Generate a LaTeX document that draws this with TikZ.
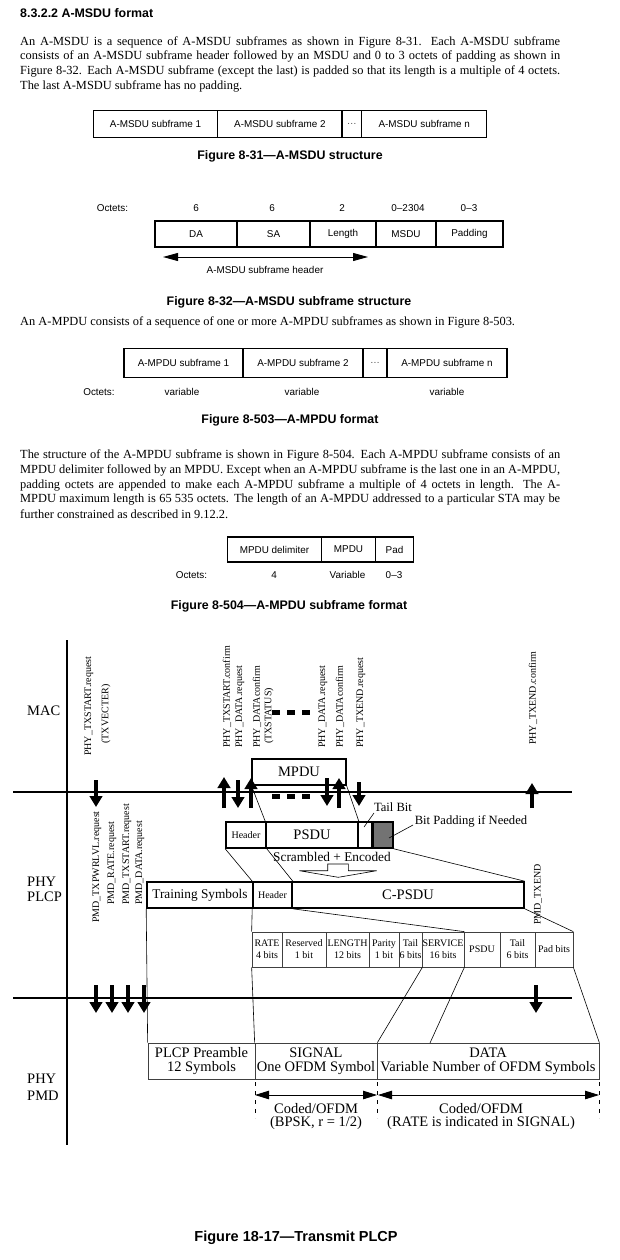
\documentclass[tikz,border=0pt]{standalone}
\usepackage{fontspec}
\setmainfont{Liberation Serif}
\setsansfont{Liberation Sans}
\usetikzlibrary{arrows.meta}
\newcommand{\jline}[1]{\makebox[540pt][s]{#1}}
\begin{document}
\begin{tikzpicture}[x=1pt,y=-1pt,
  body/.style={font=\fontsize{12.4}{14.8}\selectfont, inner sep=0pt},
  capt/.style={font=\sffamily\bfseries\fontsize{12.4}{14}\selectfont, inner sep=0pt},
  lab/.style={font=\sffamily\fontsize{9.9}{11}\selectfont, inner sep=0pt},
  cell/.style={draw, line width=1.2pt, inner sep=0pt, font=\sffamily\fontsize{9.9}{11}\selectfont},
  rlab/.style={font=\fontsize{10}{11}\selectfont, inner sep=0pt, rotate=90, anchor=west},
  rlabc/.style={font=\fontsize{10}{11}\selectfont, inner sep=0pt, rotate=90},
  big/.style={font=\fontsize{14.5}{14}\selectfont, inner sep=0pt},
  mid/.style={font=\fontsize{13.3}{14}\selectfont, inner sep=0pt},
  small/.style={font=\fontsize{10}{12}\selectfont, inner sep=0pt},
  note/.style={font=\fontsize{12.6}{13}\selectfont, inner sep=0pt},
  thickbox/.style={draw, line width=1.6pt, inner sep=0pt},
  thinbox/.style={draw=black!75, line width=0.7pt, inner sep=0pt},
  fatarrow/.style={line width=3.3pt, -{Triangle[width=12.5pt,length=11pt]}},
  link/.style={line width=0.6pt},
  sepline/.style={line width=1.4pt},
  dimarrow/.style={line width=0.8pt, {Triangle[length=14pt,width=8.5pt]}-{Triangle[length=14pt,width=8.5pt]}},
  tick/.style={line width=0.7pt, dash pattern=on 4pt off 5pt},
  fatdash/.style={line width=5pt, dash pattern=on 8pt off 7pt},
]
\useasboundingbox (0,0) rectangle (620,1260);

% ---------- heading and paragraph 1
\node[font=\sffamily\bfseries\fontsize{12.4}{14}\selectfont, inner sep=0pt, anchor=west] (head) at (20,13) {8.3.2.2 A-MSDU format};
\node[body, anchor=west] (p1a) at (20,42) {\jline{An A-MSDU is a sequence of A-MSDU subframes as shown in Figure 8-31. Each A-MSDU subframe}};
\node[body, anchor=west] (p1b) at (20,56.8) {\jline{consists of an A-MSDU subframe header followed by an MSDU and 0 to 3 octets of padding as shown in}};
\node[body, anchor=west] (p1c) at (20,71.6) {\jline{Figure 8-32. Each A-MSDU subframe (except the last) is padded so that its length is a multiple of 4 octets.}};
\node[body, anchor=west] (p1d) at (20,86.4) {The last A-MSDU subframe has no padding.};

% ---------- Figure 8-31
\node[cell, minimum width=124.4pt, minimum height=26.8pt] (m1) at (155.6,124) {A-MSDU subframe 1};
\node[cell, minimum width=124.2pt, minimum height=26.8pt] (m2) at (279.9,124) {A-MSDU subframe 2};
\node[cell, minimum width=19.8pt, minimum height=26.8pt] (m3) at (351.9,124) {\textcolor{black!70}{\ldots}};
\node[cell, minimum width=124.9pt, minimum height=26.8pt] (m4) at (424.25,124) {A-MSDU subframe n};
\node[capt] (cap31) at (290,156) {Figure 8-31—A-MSDU structure};

% ---------- Figure 8-32
\node[lab] (oct1) at (112.5,208) {Octets:};
\node[lab] (o1) at (196,208) {6};
\node[lab] (o2) at (272,208) {6};
\node[lab] (o3) at (342,208) {2};
\node[lab] (o4) at (408,208) {0–2304};
\node[lab] (o5) at (469,208) {0–3};
\node[cell, minimum width=82pt, minimum height=26pt] (c1) at (196,234) {DA};
\node[cell, minimum width=73pt, minimum height=26pt] (c2) at (273.5,234) {SA};
\node[cell, minimum width=66pt, minimum height=26pt] (c3) at (343,234) {Length};
\node[cell, minimum width=60pt, minimum height=26pt] (c4) at (406,234) {MSDU};
\node[cell, minimum width=67pt, minimum height=26pt] (c5) at (469.5,234) {Padding};
\coordinate (hl) at (163,257);
\coordinate (hr) at (368,257);
\draw[line width=0.9pt, {Triangle[length=15pt,width=8pt]}-{Triangle[length=15pt,width=8pt]}] (hl) -- (hr);
\node[lab] (hdrlab) at (265,270) {A-MSDU subframe header};
\node[capt] (cap32) at (289,302) {Figure 8-32—A-MSDU subframe structure};

% ---------- paragraph 2 and Figure 8-503
\node[body, anchor=west] (p2) at (20,322) {An A-MPDU consists of a sequence of one or more A-MPDU subframes as shown in Figure 8-503.};
\node[cell, minimum width=119pt, minimum height=29pt] (d1) at (183.5,363) {A-MPDU subframe 1};
\node[cell, minimum width=120pt, minimum height=29pt] (d2) at (303,363) {A-MPDU subframe 2};
\node[cell, minimum width=24pt, minimum height=29pt] (d3) at (375,363) {\textcolor{black!70}{\ldots}};
\node[cell, minimum width=120pt, minimum height=29pt] (d4) at (447,363) {A-MPDU subframe n};
\node[lab] (oct2) at (99,392) {Octets:};
\node[lab] (v1) at (182,392) {variable};
\node[lab] (v2) at (302,392) {variable};
\node[lab] (v3) at (447,392) {variable};
\node[capt] (cap503) at (290,420) {Figure 8-503—A-MPDU format};

% ---------- paragraph 3 and Figure 8-504
\node[body, anchor=west] (p3a) at (20,455.5) {\jline{The structure of the A-MPDU subframe is shown in Figure 8-504. Each A-MPDU subframe consists of an}};
\node[body, anchor=west] (p3b) at (20,470.3) {\jline{MPDU delimiter followed by an MPDU. Except when an A-MPDU subframe is the last one in an A-MPDU,}};
\node[body, anchor=west] (p3c) at (20,485.1) {\jline{padding octets are appended to make each A-MPDU subframe a multiple of 4 octets in length. The A-}};
\node[body, anchor=west] (p3d) at (20,499.9) {\jline{MPDU maximum length is \hbox{65 535} octets. The length of an A-MPDU addressed to a particular STA may be}};
\node[body, anchor=west] (p3e) at (20,514.7) {further constrained as described in 9.12.2.};
\node[cell, minimum width=94.5pt, minimum height=25pt] (e1) at (274.45,549.5) {MPDU delimiter};
\node[cell, minimum width=53.6pt, minimum height=25pt] (e2) at (348.5,549.5) {MPDU};
\node[cell, minimum width=38.5pt, minimum height=25pt] (e3) at (394.55,549.5) {Pad};
\node[lab] (oct3) at (191.5,575) {Octets:};
\node[lab] (w1) at (274,575) {4};
\node[lab] (w2) at (347.5,575) {Variable};
\node[lab] (w3) at (394,575) {0–3};
\node[capt] (cap504) at (289,606) {Figure 8-504—A-MPDU subframe format};

% ---------- Figure 18-17 frame
\coordinate (h1l) at (13,792); \coordinate (h1r) at (572,792);
\coordinate (h2l) at (13,998); \coordinate (h2r) at (572,998);
\coordinate (vt) at (67,640); \coordinate (vb) at (67,1145);
\draw[sepline] (h1l) -- (h1r);
\draw[sepline] (h2l) -- (h2r);
\draw[sepline] (vt) -- (vb);
\node[big, anchor=west] (mac) at (27,711) {MAC};
\node[big, anchor=west, align=left, font=\fontsize{14.5}{15.5}\selectfont] (plcp) at (27,889.5) {PHY\\PLCP};
\node[big, anchor=west, align=left, font=\fontsize{14.5}{17}\selectfont] (pmd) at (27,1087) {PHY\\PMD};

% MAC primitives
\node[rlab] (r1) at (89,756) {PHY\_TXSTART.request};
\node[rlabc] (r1b) at (106,714) {(TXVECTER)};
\node[rlab] (r2) at (227,748) {PHY\_TXSTART.confirm};
\node[rlab] (r3) at (240,748) {PHY\_DATA.request};
\node[rlab] (r4) at (257,748) {PHY\_DATAconfirm};
\node[rlabc] (r4b) at (269,716) {(TXSTATUS)};
\node[rlab] (r5) at (323,748) {PHY\_DATA.request};
\node[rlab] (r6) at (340,748) {PHY\_DATAconfirm};
\node[rlab] (r7) at (361,748) {PHY\_TXEND.request};
\node[rlab] (r8) at (533,745) {PHY\_TXEND.confirm};
\draw[fatdash] (272,712) -- (310,712);

\node[draw, line width=1.2pt, inner sep=0pt, minimum width=94pt, minimum height=26pt, big] (mpdu) at (299,772) {MPDU};

% MAC / PLCP arrows
\draw[fatarrow] (96,780) -- (96,807);
\draw[fatarrow] (224,808) -- (224,777);
\draw[fatarrow] (238,780) -- (238,808);
\draw[fatarrow] (251,808) -- (251,778);
\draw[fatarrow] (327,778) -- (327,806);
\draw[fatarrow] (339,808) -- (339,778);
\draw[fatarrow] (359,782) -- (359,806);
\draw[fatarrow] (532,808) -- (532,783);
\draw[fatdash] (272,796) -- (310,796);

% PLCP: PSDU row
\node[thickbox, small, minimum width=40pt, minimum height=26pt] (hdrA) at (246,835) {Header};
\node[thickbox, big, minimum width=92pt, minimum height=26pt] (psdu) at (312,835) {PSDU};
\node[thickbox, minimum width=14pt, minimum height=26pt] (tailb) at (365,835) {};
\node[thickbox, fill=black!55, minimum width=20pt, minimum height=26pt] (padg) at (383,835) {};
\draw[link] (mpdu.south west) -- (psdu.north west);
\draw[link] (mpdu.south east) -- (psdu.north east);
\node[note] (tbl) at (393,807) {Tail Bit};
\coordinate (tbs) at (374,813); \coordinate (tbe) at (364,827);
\draw[link] (tbs) -- (tbe);
\node[note] (bpl) at (471,821) {Bit Padding if Needed};
\coordinate (bps) at (413,825); \coordinate (bpe) at (389,838);
\draw[link] (bps) -- (bpe);
\node[mid] (scr) at (332,857) {Scrambled + Encoded};
\draw[link, fill=white] (327.7,864) -- (348.3,864) -- (348.3,870.7) -- (376.7,870.7) -- (338.3,877.3) -- (299.3,870.7) -- (327.7,870.7) -- cycle;

% PLCP: C-PSDU row
\node[thickbox, mid, minimum width=106pt, minimum height=26pt] (train) at (200,895) {Training Symbols};
\node[thickbox, small, minimum width=39pt, minimum height=26pt] (hdrB) at (272.5,895) {Header};
\node[thickbox, big, minimum width=232pt, minimum height=26pt] (cpsdu) at (408,895) {C-PSDU};
\draw[link] (hdrA.south west) -- (hdrB.north west);
\draw[link] (hdrA.south east) -- (hdrB.north east);
\draw[link] (padg.south east) -- (cpsdu.north east);

% PMD primitives
\node[rlab] (q1) at (97,923) {PMD\_TXPWRLVL.request};
\node[rlab] (q2) at (112,905) {PMD\_RATE.request};
\node[rlab] (q3) at (127,905) {PMD\_TXSTART.request};
\node[rlab] (q4) at (140,905) {PMD\_DATA.request};
\node[rlab] (q5) at (538,925) {PMD\_TXEND};

% bit row
\node[thinbox, small, align=center, minimum width=30pt, minimum height=35pt] (b1) at (267,949.5) {RATE\\4 bits};
\node[thinbox, small, align=center, minimum width=44pt, minimum height=35pt] (b2) at (304,949.5) {Reserved\\1 bit};
\node[thinbox, small, align=center, minimum width=43pt, minimum height=35pt] (b3) at (347.5,949.5) {LENGTH\\12 bits};
\node[thinbox, small, align=center, minimum width=30pt, minimum height=35pt] (b4) at (384,949.5) {Parity\\1 bit};
\node[thinbox, small, align=center, minimum width=23pt, minimum height=35pt] (b5) at (410.5,949.5) {Tail\\6 bits};
\node[thinbox, small, align=center, minimum width=42pt, minimum height=35pt] (b6) at (443,949.5) {SERVICE\\16 bits};
\node[thinbox, small, align=center, minimum width=36pt, minimum height=35pt] (b7) at (482,949.5) {PSDU};
\node[thinbox, small, align=center, minimum width=35pt, minimum height=35pt] (b8) at (517.5,949.5) {Tail\\6 bits};
\node[thinbox, small, align=center, minimum width=38pt, minimum height=35pt] (b9) at (554,949.5) {Pad bits};
\draw[link] (hdrB.south west) -- (b1.north west);
\draw[link] (hdrB.south east) -- (b6.north east);
\draw[link] (cpsdu.south east) -- (b9.north east);

% PMD arrows
\draw[fatarrow] (96,985) -- (96,1013);
\draw[fatarrow] (112,985) -- (112,1013);
\draw[fatarrow] (128,985) -- (128,1013);
\draw[fatarrow] (144,985) -- (144,1013);
\draw[fatarrow] (536,985) -- (536,1013);

% PMD row
\node[thinbox, big, align=center, minimum width=107pt, minimum height=36pt] (pre) at (201.5,1061) {PLCP Preamble\\12 Symbols};
\node[thinbox, big, align=center, minimum width=122pt, minimum height=36pt] (sig) at (316,1061) {SIGNAL\\One OFDM Symbol};
\node[thinbox, big, align=center, minimum width=222pt, minimum height=36pt] (dat) at (488,1061) {DATA\\Variable Number of OFDM Symbols};
\coordinate (datin) at (430,1043);
\draw[link] (train.south west) -- (pre.north west);
\draw[link] (b1.south west) -- (sig.north west);
\draw[link] (b5.south east) -- (sig.north east);
\draw[link] (b6.south east) -- (datin);
\draw[link] (b9.south east) -- (dat.north east);

% dimension arrows
\coordinate (t1) at (255,1095); \coordinate (t2) at (377,1095);
\coordinate (t3) at (378,1095); \coordinate (t4) at (599,1095);
\draw[dimarrow] (t1) -- (t2);
\draw[dimarrow] (t3) -- (t4);
\draw[tick] (255,1082) -- (255,1118);
\draw[tick] (377,1082) -- (377,1118);
\draw[tick] (599,1082) -- (599,1118);
\node[big, align=center, font=\fontsize{14.5}{13}\selectfont] (cod1) at (316,1116.5) {Coded/OFDM\\(BPSK, r = 1/2)};
\node[big, align=center, font=\fontsize{14.5}{13}\selectfont] (cod2) at (481,1116.5) {Coded/OFDM\\(RATE is indicated in SIGNAL)};

\node[font=\sffamily\bfseries\fontsize{14.5}{16}\selectfont, inner sep=0pt] (cap1817) at (296,1238) {Figure 18-17—Transmit PLCP};
\end{tikzpicture}
\end{document}
